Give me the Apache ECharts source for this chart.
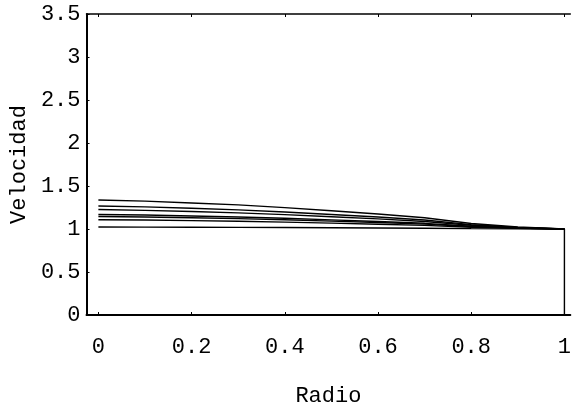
<!DOCTYPE html>
<html>
<head>
<meta charset="utf-8">
<script src="https://cdn.jsdelivr.net/npm/echarts@6/dist/echarts.min.js"></script>
<style>
html,body{margin:0;padding:0;background:#fff;}
#c{width:574px;height:412px;}
</style>
</head>
<body>
<div id="c"></div>
<script>
// radius sample points
var radio = [0, 0.1, 0.2, 0.3, 0.4, 0.5, 0.6, 0.7, 0.8, 0.9, 1];
// velocity profiles
var v1 = [1.337, 1.324, 1.303, 1.280, 1.249, 1.212, 1.175, 1.131, 1.064, 1.024, 1.0];
var v2 = [1.268, 1.257, 1.241, 1.222, 1.198, 1.169, 1.139, 1.105, 1.051, 1.019, 1.0];
var v3 = [1.226, 1.217, 1.203, 1.188, 1.167, 1.142, 1.118, 1.088, 1.043, 1.016, 1.0];
var v4 = [1.169, 1.162, 1.152, 1.140, 1.125, 1.106, 1.088, 1.066, 1.032, 1.012, 1.0];
var v5 = [1.146, 1.140, 1.131, 1.121, 1.108, 1.092, 1.076, 1.057, 1.028, 1.010, 1.0];
var v6 = [1.108, 1.104, 1.097, 1.090, 1.080, 1.068, 1.056, 1.042, 1.021, 1.008, 1.0];
var v7 = [1.023, 1.022, 1.021, 1.019, 1.017, 1.014, 1.012, 1.009, 1.004, 1.002, 1.0];
// closing segment at the wall
var wallX = [1, 1];
var wallY = [1, 0];
// tick labels
var xTicks = [0, 0.2, 0.4, 0.6, 0.8, 1];
var yTicks = [0, 0.5, 1, 1.5, 2, 2.5, 3, 3.5];

var profiles = [v1, v2, v3, v4, v5, v6, v7];
var FONT = "'Liberation Mono', 'Courier New', monospace";

function pairs(xs, ys) {
  return xs.map(function (x, i) { return [x, ys[i]]; });
}

var series = profiles.map(function (vals, k) {
  return {
    type: 'line', name: 'perfil ' + (k + 1),
    data: pairs(radio, vals),
    showSymbol: false, symbol: 'none', smooth: false,
    lineStyle: { color: '#000', width: 1.4 },
    animation: false
  };
});
series.push({
  type: 'line', name: 'pared',
  data: pairs(wallX, wallY),
  showSymbol: false, symbol: 'none',
  lineStyle: { color: '#000', width: 1.4 },
  animation: false
});

var chart = echarts.init(document.getElementById('c'));
chart.setOption({
  backgroundColor: '#fff',
  animation: false,
  grid: { left: 85, top: 14, right: 0, height: 304, containLabel: false },
  xAxis: [{
    type: 'value', min: -0.0255, max: 1.0127,
    name: 'Radio', nameLocation: 'middle', nameGap: 70,
    nameTextStyle: { fontFamily: FONT, fontSize: 22, color: '#000' },
    axisLine: { show: true, lineStyle: { color: '#000', width: 2 } },
    axisTick: { show: true, inside: true, length: 3, customValues: xTicks, lineStyle: { color: '#000' } },
    axisLabel: { show: true, customValues: xTicks, margin: 21, fontFamily: FONT, fontSize: 22, color: '#000' },
    splitLine: { show: false }
  }, {
    type: 'value', position: 'top', min: -0.0255, max: 1.0127,
    axisLine: { show: true, onZero: false, lineStyle: { color: '#000', width: 1.5 } },
    axisTick: { show: true, inside: true, length: 3, customValues: xTicks, lineStyle: { color: '#000' } },
    axisLabel: { show: false },
    splitLine: { show: false }
  }],
  yAxis: [{
    type: 'value', min: 0, max: 3.5, interval: 0.5,
    name: 'Velocidad', nameLocation: 'middle', nameGap: 54, nameRotate: 90,
    nameTextStyle: { fontFamily: FONT, fontSize: 22, color: '#000' },
    axisLine: { show: true, onZero: false, lineStyle: { color: '#000', width: 2 } },
    axisTick: { show: true, inside: true, length: 3, lineStyle: { color: '#000' } },
    axisLabel: { show: true, margin: 6, fontFamily: FONT, fontSize: 22, color: '#000' },
    splitLine: { show: false }
  }],
  series: series
});
</script>
</body>
</html>
